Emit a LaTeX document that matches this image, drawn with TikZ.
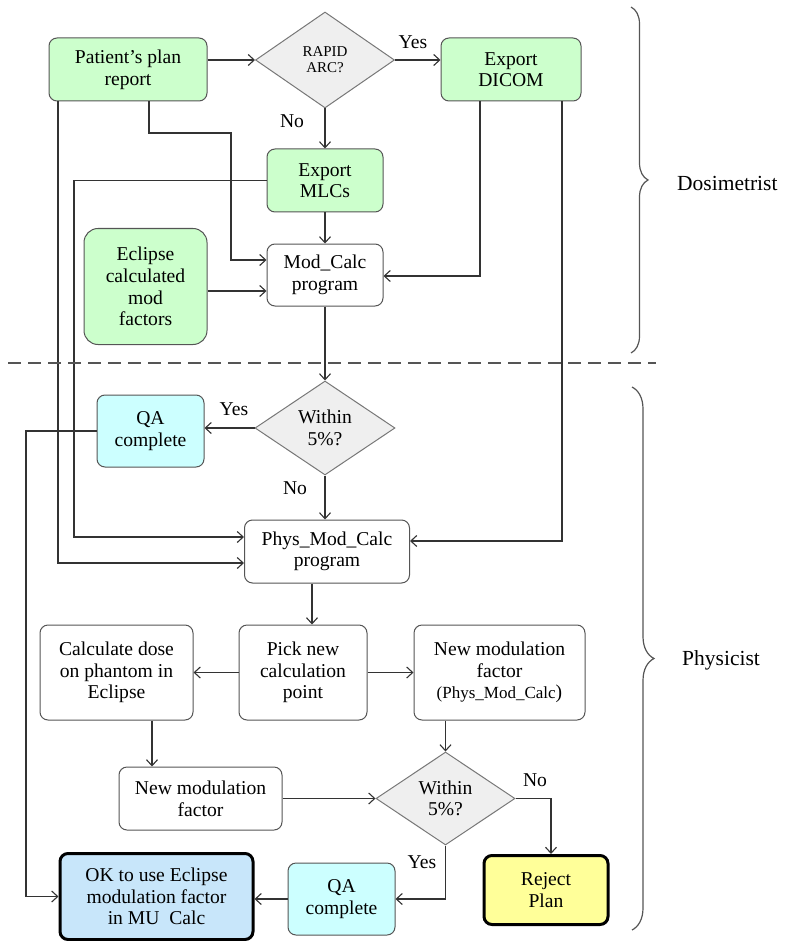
\documentclass[tikz,border=0pt]{standalone}
\usepackage{fontspec}
\setmainfont{Liberation Serif}
\newfontfamily\tnr{Liberation Serif}
\usetikzlibrary{shapes.geometric,arrows.meta,decorations.pathreplacing}
\definecolor{gfill}{HTML}{CCFFCC}
\definecolor{cfill}{HTML}{CCFFFF}
\definecolor{bfill}{HTML}{C8E6FA}
\definecolor{yfill}{HTML}{FFFF99}
\definecolor{dfill}{HTML}{EFEFEF}
\definecolor{edge}{HTML}{555555}
\definecolor{lcol}{HTML}{333333}
\tikzset{
  base/.style={rounded corners=8pt, draw=edge, line width=1pt, align=center, inner sep=0pt,
    font=\tnr\fontsize{19.6}{21.6}\selectfont},
  gbox/.style={base, fill=gfill},
  wbox/.style={base, fill=white},
  cbox/.style={base, fill=cfill},
  thickbox/.style={base, draw=black, line width=3pt},
  dec/.style={diamond, draw=edge!80, line width=1pt, fill=dfill, inner sep=0pt, align=center,
    font=\tnr\fontsize{19.6}{21.6}\selectfont},
  arr/.style={draw=lcol, line width=1.1pt, -{Straight Barb[length=6pt,width=11pt]}},
  lbl/.style={font=\tnr\fontsize{19.6}{21.6}\selectfont, inner sep=0pt},
  brc/.style={draw=edge, line width=1.2pt, decorate},
}
\begin{document}
\begin{tikzpicture}[x=1pt,y=-1pt]
\useasboundingbox (0,0) rectangle (786,941);
% nodes
\node[gbox, minimum width=158, minimum height=63] (pat) at (128,69.5) {Patient’s plan\\report};
\node[dec, minimum width=139, minimum height=96, font=\tnr\fontsize{15}{16}\selectfont] (rapid) at (325,60) {RAPID\\ARC?};
\node[gbox, minimum width=140, minimum height=63] (dicom) at (511,69.5) {Export\\DICOM};
\node[gbox, minimum width=116, minimum height=63] (mlc) at (325,180.5) {Export\\MLCs};
\node[wbox, minimum width=116, minimum height=62] (modc) at (325,275) {Mod\_Calc\\program};
\node[gbox, minimum width=123, minimum height=116, rounded corners=14pt] (ecl) at (145.5,286.5) {Eclipse\\calculated\\mod\\factors};
\node[dec, minimum width=140, minimum height=94] (w1) at (325,428) {Within\\5\%?};
\node[cbox, minimum width=107, minimum height=72] (qa1) at (150.5,431) {QA\\complete};
\node[wbox, minimum width=165, minimum height=63] (phys) at (327,551.5) {Phys\_Mod\_Calc\\program};
\node[wbox, minimum width=128, minimum height=95] (pick) at (303,672.5) {Pick new\\calculation\\point};
\node[wbox, minimum width=153, minimum height=95] (calc) at (116.5,672.5) {Calculate dose\\on phantom in\\Eclipse};
\node[wbox, minimum width=171, minimum height=95] (nmp) at (499.5,672.5) {New modulation\\factor\\{\fontsize{17}{18}\selectfont(Phys\_Mod\_Calc})};
\node[wbox, minimum width=163, minimum height=63] (nml) at (200.5,798.5) {New modulation\\factor};
\node[dec, minimum width=139, minimum height=93] (w2) at (445.5,798.5) {Within\\5\%?};
\node[thickbox, fill=yfill, minimum width=124, minimum height=69] (rej) at (546,890) {Reject\\Plan};
\node[cbox, minimum width=107, minimum height=72] (qa2) at (341.5,899) {QA\\complete};
\node[thickbox, fill=bfill, minimum width=193, minimum height=86] (ok) at (156.5,896.5) {OK to use Eclipse\\modulation factor\\in MU\ \ Calc};
% helper coordinates
\coordinate (p1) at (149,133);
\coordinate (p2) at (231,260);
\coordinate (e1) at (0,291);
\coordinate (d1) at (480,276);
\coordinate (d2) at (562,541);
\coordinate (m1) at (74,181);
\coordinate (m2) at (74,537);
\coordinate (q1) at (58,563);
\coordinate (r1) at (26,0);
\coordinate (s1) at (312,0);
\coordinate (t1) at (152,0);
\coordinate (u1) at (551,0);
% connectors
\draw[arr] (rapid.west -| pat.east) -- (rapid.west);
\draw[arr] (rapid.east) -- (rapid.east -| dicom.west);
\draw[arr] (rapid.south) -- (mlc.north);
\draw[arr] (mlc) -- (modc);
\draw[arr] (pat.south -| p1) -- (p1) -- (p1 -| p2) -- (p2) -- (p2 -| modc.west);
\draw[arr] (ecl.east |- e1) -- (modc.west |- e1);
\draw[arr] (dicom.south -| d1) -- (d1) -- (d1 -| modc.east);
\draw[arr] (dicom.south -| d2) -- (d2) -- (d2 -| phys.east);
\draw[arr] (mlc.west) -- (mlc.west -| m1) -- (m2) -- (m2 -| phys.west);
\draw[arr] (pat.south -| q1) -- (q1) -- (q1 -| phys.west);
\draw[arr] (modc.south) -- (w1.north);
\draw[arr] (w1.west) -- (w1.west -| qa1.east);
\draw[arr] (w1.south) -- (w1.south |- phys.north);
\draw[arr] (qa1.west) -- (qa1.west -| r1) |- (ok.west);
\draw[arr] (phys.south -| s1) -- (pick.north -| s1);
\draw[arr] (pick.west) -- (calc.east);
\draw[arr] (pick.east) -- (nmp.west);
\draw[arr] (calc.south -| t1) -- (nml.north -| t1);
\draw[arr] (nml.east) -- (w2.west);
\draw[arr] (nmp.south -| w2.north) -- (w2.north);
\draw[arr] (w2.east) -- (w2.east -| u1) -- (rej.north -| u1);
\draw[arr] (w2.south) |- (qa2.east);
\draw[arr] (qa2.west) -- (qa2.west -| ok.east);
% labels
\node[lbl] (yes1) at (413,42) {Yes};
\node[lbl] (no1) at (292,121) {No};
\node[lbl] (yes2) at (234,409) {Yes};
\node[lbl] (no2) at (295,488) {No};
\node[lbl] (no3) at (535,780) {No};
\node[lbl] (yes3) at (422,862) {Yes};
% separator
\coordinate (sl) at (8,363);
\coordinate (sr) at (656,363);
\draw[edge, line width=2.2pt, dash pattern=on 13pt off 7pt] (sl) -- (sr);
% braces
\coordinate (b1t) at (631,7);
\coordinate (b1b) at (631,353);
\coordinate (b2t) at (632,387);
\coordinate (b2b) at (632,930);
\draw[brc, decoration={brace, amplitude=17pt}] (b1t) -- (b1b);
\draw[brc, decoration={brace, amplitude=22pt}] (b2t) -- (b2b);
\node[anchor=west, inner sep=0pt, font=\tnr\fontsize{21.5}{24}\selectfont] (dos) at (677,183) {Dosimetrist};
\node[anchor=west, inner sep=0pt, font=\tnr\fontsize{21.5}{24}\selectfont] (phy) at (682,660) {Physicist};
\end{tikzpicture}
\end{document}
